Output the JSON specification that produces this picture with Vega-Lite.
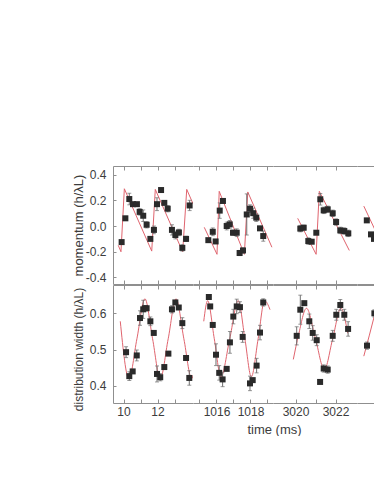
{
  "$schema": "https://vega.github.io/schema/vega-lite/v6.json",
  "padding": {"left": 71, "top": 165, "right": 0, "bottom": 0},
  "background": "white",
  "config": {
    "view": {"stroke": null},
    "font": "Liberation Sans",
    "axis": {"domainColor": "#8f8f8f", "tickColor": "#8f8f8f", "domainWidth": 1, "tickWidth": 1, "labelColor": "#3c3c3c", "labelFont": "Liberation Sans", "labelFontSize": 12, "titleFont": "Liberation Sans", "titleFontSize": 13, "titleFontWeight": "normal", "titleColor": "#3c3c3c", "grid": false, "tickSize": -4, "labelPadding": 7}
  },
  "datasets": {
    "pts": [
      {"p":"m","s":1,"t":9.89,"v":-0.125,"e":0.012},
      {"p":"m","s":1,"t":10.11,"v":0.06,"e":0.015},
      {"p":"m","s":1,"t":10.34,"v":0.21,"e":0.045},
      {"p":"m","s":1,"t":10.56,"v":0.17,"e":0.012},
      {"p":"m","s":1,"t":10.79,"v":0.17,"e":0.012},
      {"p":"m","s":1,"t":10.95,"v":0.11,"e":0.025},
      {"p":"m","s":1,"t":11.16,"v":0.08,"e":0.045},
      {"p":"m","s":1,"t":11.36,"v":0.01,"e":0.025},
      {"p":"m","s":1,"t":11.58,"v":-0.10,"e":0.012},
      {"p":"m","s":1,"t":11.79,"v":-0.03,"e":0.03},
      {"p":"m","s":1,"t":11.97,"v":0.17,"e":0.05},
      {"p":"m","s":1,"t":12.21,"v":0.28,"e":0.012},
      {"p":"m","s":1,"t":12.40,"v":0.18,"e":0.012},
      {"p":"m","s":1,"t":12.60,"v":0.135,"e":0.025},
      {"p":"m","s":1,"t":12.85,"v":-0.03,"e":0.04},
      {"p":"m","s":1,"t":13.05,"v":-0.07,"e":0.03},
      {"p":"m","s":1,"t":13.26,"v":-0.05,"e":0.025},
      {"p":"m","s":1,"t":13.46,"v":-0.17,"e":0.025},
      {"p":"m","s":1,"t":13.68,"v":-0.10,"e":0.02},
      {"p":"m","s":1,"t":13.89,"v":0.16,"e":0.04},
      {"p":"m","s":2,"t":1015.52,"v":-0.11,"e":0.012},
      {"p":"m","s":2,"t":1015.78,"v":-0.045,"e":0.03},
      {"p":"m","s":2,"t":1015.95,"v":-0.12,"e":0.012},
      {"p":"m","s":2,"t":1016.19,"v":0.12,"e":0.06},
      {"p":"m","s":2,"t":1016.38,"v":0.195,"e":0.012},
      {"p":"m","s":2,"t":1016.60,"v":0.0,"e":0.03},
      {"p":"m","s":2,"t":1016.78,"v":0.013,"e":0.03},
      {"p":"m","s":2,"t":1016.97,"v":-0.052,"e":0.02},
      {"p":"m","s":2,"t":1017.19,"v":-0.052,"e":0.03},
      {"p":"m","s":2,"t":1017.36,"v":-0.21,"e":0.02},
      {"p":"m","s":2,"t":1017.56,"v":-0.19,"e":0.02},
      {"p":"m","s":2,"t":1017.78,"v":0.09,"e":0.16},
      {"p":"m","s":2,"t":1017.97,"v":0.135,"e":0.03},
      {"p":"m","s":2,"t":1018.16,"v":0.10,"e":0.04},
      {"p":"m","s":2,"t":1018.34,"v":0.065,"e":0.03},
      {"p":"m","s":2,"t":1018.56,"v":-0.018,"e":0.012},
      {"p":"m","s":2,"t":1018.75,"v":-0.078,"e":0.04},
      {"p":"m","s":3,"t":3020.24,"v":-0.02,"e":0.025},
      {"p":"m","s":3,"t":3020.41,"v":-0.013,"e":0.02},
      {"p":"m","s":3,"t":3020.64,"v":-0.117,"e":0.025},
      {"p":"m","s":3,"t":3020.81,"v":-0.122,"e":0.012},
      {"p":"m","s":3,"t":3021.04,"v":-0.052,"e":0.012},
      {"p":"m","s":3,"t":3021.24,"v":0.208,"e":0.045},
      {"p":"m","s":3,"t":3021.41,"v":0.122,"e":0.025},
      {"p":"m","s":3,"t":3021.61,"v":0.13,"e":0.025},
      {"p":"m","s":3,"t":3021.86,"v":0.099,"e":0.025},
      {"p":"m","s":3,"t":3022.03,"v":0.031,"e":0.025},
      {"p":"m","s":3,"t":3022.24,"v":-0.034,"e":0.025},
      {"p":"m","s":3,"t":3022.44,"v":-0.039,"e":0.025},
      {"p":"m","s":3,"t":3022.64,"v":-0.057,"e":0.025},
      {"p":"m","s":4,"t":7019.54,"v":0.044,"e":0.012},
      {"p":"m","s":4,"t":7019.75,"v":-0.065,"e":0.012},
      {"p":"m","s":4,"t":7019.9,"v":-0.1,"e":0.012},
      {"p":"w","s":1,"t":10.15,"v":0.493,"e":0.015},
      {"p":"w","s":1,"t":10.34,"v":0.427,"e":0.012},
      {"p":"w","s":1,"t":10.54,"v":0.44,"e":0.005},
      {"p":"w","s":1,"t":10.78,"v":0.484,"e":0.015},
      {"p":"w","s":1,"t":10.97,"v":0.587,"e":0.02},
      {"p":"w","s":1,"t":11.16,"v":0.611,"e":0.025},
      {"p":"w","s":1,"t":11.26,"v":0.614,"e":0.005},
      {"p":"w","s":1,"t":11.36,"v":0.614,"e":0.005},
      {"p":"w","s":1,"t":11.58,"v":0.578,"e":0.012},
      {"p":"w","s":1,"t":11.78,"v":0.546,"e":0.005},
      {"p":"w","s":1,"t":11.97,"v":0.433,"e":0.022},
      {"p":"w","s":1,"t":12.16,"v":0.424,"e":0.01},
      {"p":"w","s":1,"t":12.40,"v":0.452,"e":0.005},
      {"p":"w","s":1,"t":12.64,"v":0.489,"e":0.005},
      {"p":"w","s":1,"t":12.85,"v":0.611,"e":0.01},
      {"p":"w","s":1,"t":13.05,"v":0.63,"e":0.005},
      {"p":"w","s":1,"t":13.25,"v":0.616,"e":0.005},
      {"p":"w","s":1,"t":13.46,"v":0.573,"e":0.015},
      {"p":"w","s":1,"t":13.68,"v":0.477,"e":0.005},
      {"p":"w","s":1,"t":13.87,"v":0.422,"e":0.02},
      {"p":"w","s":2,"t":1015.55,"v":0.645,"e":0.005},
      {"p":"w","s":2,"t":1015.63,"v":0.619,"e":0.005},
      {"p":"w","s":2,"t":1015.78,"v":0.568,"e":0.005},
      {"p":"w","s":2,"t":1015.97,"v":0.486,"e":0.03},
      {"p":"w","s":2,"t":1016.16,"v":0.436,"e":0.02},
      {"p":"w","s":2,"t":1016.36,"v":0.418,"e":0.02},
      {"p":"w","s":2,"t":1016.60,"v":0.447,"e":0.005},
      {"p":"w","s":2,"t":1016.79,"v":0.52,"e":0.03},
      {"p":"w","s":2,"t":1016.99,"v":0.591,"e":0.02},
      {"p":"w","s":2,"t":1017.19,"v":0.619,"e":0.02},
      {"p":"w","s":2,"t":1017.38,"v":0.617,"e":0.015},
      {"p":"w","s":2,"t":1017.54,"v":0.535,"e":0.015},
      {"p":"w","s":2,"t":1017.97,"v":0.407,"e":0.02},
      {"p":"w","s":2,"t":1018.13,"v":0.416,"e":0.005},
      {"p":"w","s":2,"t":1018.36,"v":0.456,"e":0.02},
      {"p":"w","s":2,"t":1018.56,"v":0.547,"e":0.02},
      {"p":"w","s":2,"t":1018.75,"v":0.63,"e":0.01},
      {"p":"w","s":3,"t":3020.06,"v":0.538,"e":0.025},
      {"p":"w","s":3,"t":3020.24,"v":0.61,"e":0.04},
      {"p":"w","s":3,"t":3020.44,"v":0.628,"e":0.005},
      {"p":"w","s":3,"t":3020.69,"v":0.578,"e":0.02},
      {"p":"w","s":3,"t":3020.86,"v":0.546,"e":0.02},
      {"p":"w","s":3,"t":3021.06,"v":0.526,"e":0.015},
      {"p":"w","s":3,"t":3021.23,"v":0.411,"e":0.005},
      {"p":"w","s":3,"t":3021.41,"v":0.448,"e":0.01},
      {"p":"w","s":3,"t":3021.61,"v":0.445,"e":0.01},
      {"p":"w","s":3,"t":3021.86,"v":0.538,"e":0.015},
      {"p":"w","s":3,"t":3022.04,"v":0.596,"e":0.015},
      {"p":"w","s":3,"t":3022.24,"v":0.623,"e":0.015},
      {"p":"w","s":3,"t":3022.44,"v":0.596,"e":0.015},
      {"p":"w","s":3,"t":3022.63,"v":0.557,"e":0.02},
      {"p":"w","s":4,"t":7019.55,"v":0.511,"e":0.01},
      {"p":"w","s":4,"t":7019.92,"v":0.60,"e":0.01}
    ],
    "fit": [
      {"p":"m","s":1,"t":9.69,"v":-0.15},
      {"p":"m","s":1,"t":9.85,"v":-0.20},
      {"p":"m","s":1,"t":10.05,"v":0.29},
      {"p":"m","s":1,"t":11.66,"v":-0.195},
      {"p":"m","s":1,"t":11.87,"v":0.285},
      {"p":"m","s":1,"t":13.48,"v":-0.20},
      {"p":"m","s":1,"t":13.72,"v":0.285},
      {"p":"m","s":1,"t":14.1,"v":0.17},
      {"p":"m","s":2,"t":1015.28,"v":-0.01},
      {"p":"m","s":2,"t":1016.03,"v":-0.22},
      {"p":"m","s":2,"t":1016.16,"v":0.27},
      {"p":"m","s":2,"t":1017.64,"v":-0.22},
      {"p":"m","s":2,"t":1017.84,"v":0.265},
      {"p":"m","s":2,"t":1019.26,"v":-0.165},
      {"p":"m","s":3,"t":3020.11,"v":0.06},
      {"p":"m","s":3,"t":3021.03,"v":-0.22},
      {"p":"m","s":3,"t":3021.19,"v":0.27},
      {"p":"m","s":3,"t":3022.69,"v":-0.19},
      {"p":"m","s":4,"t":7019.39,"v":0.155},
      {"p":"m","s":4,"t":7019.95,"v":-0.03},
      {"p":"w","s":1,"t":9.81,"v":0.578},
      {"p":"w","s":1,"t":10.32,"v":0.42},
      {"p":"w","s":1,"t":10.79,"v":0.53},
      {"p":"w","s":1,"t":11.26,"v":0.64},
      {"p":"w","s":1,"t":11.71,"v":0.53},
      {"p":"w","s":1,"t":12.16,"v":0.42},
      {"p":"w","s":1,"t":12.63,"v":0.53},
      {"p":"w","s":1,"t":13.09,"v":0.64},
      {"p":"w","s":1,"t":13.55,"v":0.53},
      {"p":"w","s":1,"t":14.01,"v":0.42},
      {"p":"w","s":1,"t":14.1,"v":0.43},
      {"p":"w","s":2,"t":1015.25,"v":0.578},
      {"p":"w","s":2,"t":1015.48,"v":0.635},
      {"p":"w","s":2,"t":1015.87,"v":0.53},
      {"p":"w","s":2,"t":1016.26,"v":0.425},
      {"p":"w","s":2,"t":1016.78,"v":0.53},
      {"p":"w","s":2,"t":1017.28,"v":0.635},
      {"p":"w","s":2,"t":1017.67,"v":0.53},
      {"p":"w","s":2,"t":1018.05,"v":0.425},
      {"p":"w","s":2,"t":1018.45,"v":0.53},
      {"p":"w","s":2,"t":1018.83,"v":0.635},
      {"p":"w","s":2,"t":1019.15,"v":0.61},
      {"p":"w","s":3,"t":3019.89,"v":0.473},
      {"p":"w","s":3,"t":3020.15,"v":0.54},
      {"p":"w","s":3,"t":3020.55,"v":0.614},
      {"p":"w","s":3,"t":3021.0,"v":0.53},
      {"p":"w","s":3,"t":3021.44,"v":0.445},
      {"p":"w","s":3,"t":3021.86,"v":0.53},
      {"p":"w","s":3,"t":3022.27,"v":0.614},
      {"p":"w","s":3,"t":3022.61,"v":0.545},
      {"p":"w","s":4,"t":7019.39,"v":0.482},
      {"p":"w","s":4,"t":7019.67,"v":0.54},
      {"p":"w","s":4,"t":7019.95,"v":0.60}
    ]
  },
  "spacing": -7,
  "vconcat": [
    {
      "spacing": 0,
      "bounds": "flush",
      "hconcat": [
        {
          "width": 80, "height": 118,
          "resolve": {"axis": {"x": "independent"}},
          "layer": [
            {"data": {"name": "fit"}, "transform": [{"filter": "datum.p == 'm' && datum.s == 1"}],
             "mark": {"type": "line", "color": "#e0646e", "strokeWidth": 1, "clip": true, "interpolate": "linear"},
             "encoding": {
               "x": {"field": "t", "type": "quantitative", "scale": {"domain": [9.382, 14.088], "nice": false, "zero": false}, "axis": {"orient": "bottom", "values": [10, 11, 12, 13], "labels": false, "title": null}},
               "y": {"field": "v", "type": "quantitative", "scale": {"domain": [-0.451, 0.467], "nice": false, "zero": false}, "axis": {"values": [-0.4, -0.2, 0, 0.2, 0.4], "labelExpr": "replace(format(datum.value, '.1f'), '\u2212', '-')", "title": "momentum (h/λL)", "titleX": -28, "tickSize": -3, "labelPadding": 10}}
             }},
            {"data": {"name": "pts"}, "transform": [{"filter": "datum.p == 'm' && datum.s == 1"}],
             "mark": {"type": "errorbar", "ticks": {"size": 4}, "color": "#6e6e6e"},
             "encoding": {
               "x": {"field": "t", "type": "quantitative", "scale": {"domain": [9.382, 14.088], "nice": false, "zero": false}, "axis": null},
               "y": {"field": "v", "type": "quantitative", "scale": {"domain": [-0.451, 0.467], "nice": false, "zero": false}, "axis": {"values": [-0.4, -0.2, 0, 0.2, 0.4], "labelExpr": "replace(format(datum.value, '.1f'), '\u2212', '-')", "title": "momentum (h/λL)", "titleX": -28, "tickSize": -3, "labelPadding": 10}},
               "yError": {"field": "e"}
             }},
            {"data": {"name": "pts"}, "transform": [{"filter": "datum.p == 'm' && datum.s == 1"}],
             "mark": {"type": "square", "size": 36, "color": "#2a2a2a", "opacity": 1},
             "encoding": {
               "x": {"field": "t", "type": "quantitative", "scale": {"domain": [9.382, 14.088], "nice": false, "zero": false}, "axis": {"orient": "top", "values": [10, 11, 12, 13], "labels": false, "title": null}},
               "y": {"field": "v", "type": "quantitative", "scale": {"domain": [-0.451, 0.467], "nice": false, "zero": false}, "axis": {"values": [-0.4, -0.2, 0, 0.2, 0.4], "labelExpr": "replace(format(datum.value, '.1f'), '\u2212', '-')", "title": "momentum (h/λL)", "titleX": -28, "tickSize": -3, "labelPadding": 10}}
             }}
          ]
        },
        {
          "width": 80, "height": 118,
          "resolve": {"axis": {"x": "independent"}},
          "layer": [
            {"data": {"name": "fit"}, "transform": [{"filter": "datum.p == 'm' && datum.s == 2"}],
             "mark": {"type": "line", "color": "#e0646e", "strokeWidth": 1, "clip": true},
             "encoding": {
               "x": {"field": "t", "type": "quantitative", "scale": {"domain": [1014.618, 1019.324], "nice": false, "zero": false}, "axis": {"orient": "bottom", "values": [1015, 1016, 1017, 1018, 1019], "labels": false, "title": null}},
               "y": {"field": "v", "type": "quantitative", "scale": {"domain": [-0.451, 0.467], "nice": false, "zero": false}, "axis": null}
             }},
            {"data": {"name": "pts"}, "transform": [{"filter": "datum.p == 'm' && datum.s == 2"}],
             "mark": {"type": "errorbar", "ticks": {"size": 4}, "color": "#6e6e6e"},
             "encoding": {
               "x": {"field": "t", "type": "quantitative", "scale": {"domain": [1014.618, 1019.324], "nice": false, "zero": false}, "axis": null},
               "y": {"field": "v", "type": "quantitative", "scale": {"domain": [-0.451, 0.467], "nice": false, "zero": false}, "axis": null},
               "yError": {"field": "e"}
             }},
            {"data": {"name": "pts"}, "transform": [{"filter": "datum.p == 'm' && datum.s == 2"}],
             "mark": {"type": "square", "size": 36, "color": "#2a2a2a", "opacity": 1},
             "encoding": {
               "x": {"field": "t", "type": "quantitative", "scale": {"domain": [1014.618, 1019.324], "nice": false, "zero": false}, "axis": {"orient": "top", "values": [1015, 1016, 1017, 1018, 1019], "labels": false, "title": null}},
               "y": {"field": "v", "type": "quantitative", "scale": {"domain": [-0.451, 0.467], "nice": false, "zero": false}, "axis": null}
             }}
          ]
        },
        {
          "width": 84, "height": 118,
          "resolve": {"axis": {"x": "independent"}},
          "layer": [
            {"data": {"name": "fit"}, "transform": [{"filter": "datum.p == 'm' && datum.s == 3"}],
             "mark": {"type": "line", "color": "#e0646e", "strokeWidth": 1, "clip": true},
             "encoding": {
               "x": {"field": "t", "type": "quantitative", "scale": {"domain": [3018.875, 3023.075], "nice": false, "zero": false}, "axis": {"orient": "bottom", "values": [3020, 3021, 3022], "labels": false, "title": null}},
               "y": {"field": "v", "type": "quantitative", "scale": {"domain": [-0.451, 0.467], "nice": false, "zero": false}, "axis": null}
             }},
            {"data": {"name": "pts"}, "transform": [{"filter": "datum.p == 'm' && datum.s == 3"}],
             "mark": {"type": "errorbar", "ticks": {"size": 4}, "color": "#6e6e6e"},
             "encoding": {
               "x": {"field": "t", "type": "quantitative", "scale": {"domain": [3018.875, 3023.075], "nice": false, "zero": false}, "axis": null},
               "y": {"field": "v", "type": "quantitative", "scale": {"domain": [-0.451, 0.467], "nice": false, "zero": false}, "axis": null},
               "yError": {"field": "e"}
             }},
            {"data": {"name": "pts"}, "transform": [{"filter": "datum.p == 'm' && datum.s == 3"}],
             "mark": {"type": "square", "size": 36, "color": "#2a2a2a", "opacity": 1},
             "encoding": {
               "x": {"field": "t", "type": "quantitative", "scale": {"domain": [3018.875, 3023.075], "nice": false, "zero": false}, "axis": {"orient": "top", "values": [3020, 3021, 3022], "labels": false, "title": null}},
               "y": {"field": "v", "type": "quantitative", "scale": {"domain": [-0.451, 0.467], "nice": false, "zero": false}, "axis": null}
             }}
          ]
        },
        {
          "width": 18, "height": 118,
          "resolve": {"axis": {"x": "independent"}},
          "layer": [
            {"data": {"name": "fit"}, "transform": [{"filter": "datum.p == 'm' && datum.s == 4"}],
             "mark": {"type": "line", "color": "#e0646e", "strokeWidth": 1, "clip": true},
             "encoding": {
               "x": {"field": "t", "type": "quantitative", "scale": {"domain": [7019.05, 7019.95], "nice": false, "zero": false}, "axis": {"orient": "bottom", "values": [], "labels": false, "title": null}},
               "y": {"field": "v", "type": "quantitative", "scale": {"domain": [-0.451, 0.467], "nice": false, "zero": false}, "axis": null}
             }},
            {"data": {"name": "pts"}, "transform": [{"filter": "datum.p == 'm' && datum.s == 4"}],
             "mark": {"type": "errorbar", "ticks": {"size": 4}, "color": "#6e6e6e", "clip": true},
             "encoding": {
               "x": {"field": "t", "type": "quantitative", "scale": {"domain": [7019.05, 7019.95], "nice": false, "zero": false}, "axis": null},
               "y": {"field": "v", "type": "quantitative", "scale": {"domain": [-0.451, 0.467], "nice": false, "zero": false}, "axis": null},
               "yError": {"field": "e"}
             }},
            {"data": {"name": "pts"}, "transform": [{"filter": "datum.p == 'm' && datum.s == 4"}],
             "mark": {"type": "square", "size": 36, "color": "#2a2a2a", "opacity": 1, "clip": true},
             "encoding": {
               "x": {"field": "t", "type": "quantitative", "scale": {"domain": [7019.05, 7019.95], "nice": false, "zero": false}, "axis": {"orient": "top", "values": [], "labels": false, "title": null}},
               "y": {"field": "v", "type": "quantitative", "scale": {"domain": [-0.451, 0.467], "nice": false, "zero": false}, "axis": null}
             }}
          ]
        }
      ]
    },
    {
      "spacing": 0,
      "bounds": "flush",
      "hconcat": [
        {
          "width": 80, "height": 118,
          "resolve": {"axis": {"x": "independent"}},
          "layer": [
            {"data": {"name": "fit"}, "transform": [{"filter": "datum.p == 'w' && datum.s == 1"}],
             "mark": {"type": "line", "color": "#e0646e", "strokeWidth": 1, "clip": true, "interpolate": "monotone"},
             "encoding": {
               "x": {"field": "t", "type": "quantitative", "scale": {"domain": [9.382, 14.088], "nice": false, "zero": false}, "axis": {"orient": "bottom", "values": [10, 11, 12, 13], "format": "d", "labelExpr": "datum.value % 2 == 0 ? datum.label : ''", "title": null}},
               "y": {"field": "v", "type": "quantitative", "scale": {"domain": [0.353, 0.678], "nice": false, "zero": false}, "axis": {"values": [0.4, 0.5, 0.6], "format": ".1f", "title": "distribution width (h/λL)", "titleFontSize": 12, "titleX": -28, "titleY": 64, "tickSize": -3, "labelPadding": 10}}
             }},
            {"data": {"name": "pts"}, "transform": [{"filter": "datum.p == 'w' && datum.s == 1"}],
             "mark": {"type": "errorbar", "ticks": {"size": 4}, "color": "#6e6e6e"},
             "encoding": {
               "x": {"field": "t", "type": "quantitative", "scale": {"domain": [9.382, 14.088], "nice": false, "zero": false}, "axis": null},
               "y": {"field": "v", "type": "quantitative", "scale": {"domain": [0.353, 0.678], "nice": false, "zero": false}, "axis": {"values": [0.4, 0.5, 0.6], "format": ".1f", "title": "distribution width (h/λL)", "titleFontSize": 12, "titleX": -28, "titleY": 64, "tickSize": -3, "labelPadding": 10}},
               "yError": {"field": "e"}
             }},
            {"data": {"name": "pts"}, "transform": [{"filter": "datum.p == 'w' && datum.s == 1"}],
             "mark": {"type": "square", "size": 36, "color": "#2a2a2a", "opacity": 1},
             "encoding": {
               "x": {"field": "t", "type": "quantitative", "scale": {"domain": [9.382, 14.088], "nice": false, "zero": false}, "axis": {"orient": "top", "values": [10, 11, 12, 13], "labels": false, "title": null}},
               "y": {"field": "v", "type": "quantitative", "scale": {"domain": [0.353, 0.678], "nice": false, "zero": false}, "axis": {"values": [0.4, 0.5, 0.6], "format": ".1f", "title": "distribution width (h/λL)", "titleFontSize": 12, "titleX": -28, "titleY": 64, "tickSize": -3, "labelPadding": 10}}
             }}
          ]
        },
        {
          "width": 80, "height": 118,
          "resolve": {"axis": {"x": "independent"}},
          "layer": [
            {"data": {"name": "fit"}, "transform": [{"filter": "datum.p == 'w' && datum.s == 2"}],
             "mark": {"type": "line", "color": "#e0646e", "strokeWidth": 1, "clip": true, "interpolate": "monotone"},
             "encoding": {
               "x": {"field": "t", "type": "quantitative", "scale": {"domain": [1014.618, 1019.324], "nice": false, "zero": false}, "axis": {"orient": "bottom", "values": [1015, 1016, 1017, 1018, 1019], "format": "d", "labelExpr": "datum.value % 2 == 0 ? datum.label : ''", "title": null}},
               "y": {"field": "v", "type": "quantitative", "scale": {"domain": [0.353, 0.678], "nice": false, "zero": false}, "axis": null}
             }},
            {"data": {"name": "pts"}, "transform": [{"filter": "datum.p == 'w' && datum.s == 2"}],
             "mark": {"type": "errorbar", "ticks": {"size": 4}, "color": "#6e6e6e"},
             "encoding": {
               "x": {"field": "t", "type": "quantitative", "scale": {"domain": [1014.618, 1019.324], "nice": false, "zero": false}, "axis": null},
               "y": {"field": "v", "type": "quantitative", "scale": {"domain": [0.353, 0.678], "nice": false, "zero": false}, "axis": null},
               "yError": {"field": "e"}
             }},
            {"data": {"name": "pts"}, "transform": [{"filter": "datum.p == 'w' && datum.s == 2"}],
             "mark": {"type": "square", "size": 36, "color": "#2a2a2a", "opacity": 1},
             "encoding": {
               "x": {"field": "t", "type": "quantitative", "scale": {"domain": [1014.618, 1019.324], "nice": false, "zero": false}, "axis": {"orient": "top", "values": [1015, 1016, 1017, 1018, 1019], "labels": false, "title": null}},
               "y": {"field": "v", "type": "quantitative", "scale": {"domain": [0.353, 0.678], "nice": false, "zero": false}, "axis": null}
             }}
          ]
        },
        {
          "width": 84, "height": 118,
          "resolve": {"axis": {"x": "independent"}},
          "layer": [
            {"data": {"name": "fit"}, "transform": [{"filter": "datum.p == 'w' && datum.s == 3"}],
             "mark": {"type": "line", "color": "#e0646e", "strokeWidth": 1, "clip": true, "interpolate": "monotone"},
             "encoding": {
               "x": {"field": "t", "type": "quantitative", "scale": {"domain": [3018.875, 3023.075], "nice": false, "zero": false}, "axis": {"orient": "bottom", "values": [3020, 3021, 3022], "format": "d", "labelExpr": "datum.value % 2 == 0 ? datum.label : ''", "title": "time (ms)", "titleX": 1, "titlePadding": 6}},
               "y": {"field": "v", "type": "quantitative", "scale": {"domain": [0.353, 0.678], "nice": false, "zero": false}, "axis": null}
             }},
            {"data": {"name": "pts"}, "transform": [{"filter": "datum.p == 'w' && datum.s == 3"}],
             "mark": {"type": "errorbar", "ticks": {"size": 4}, "color": "#6e6e6e"},
             "encoding": {
               "x": {"field": "t", "type": "quantitative", "scale": {"domain": [3018.875, 3023.075], "nice": false, "zero": false}, "axis": null},
               "y": {"field": "v", "type": "quantitative", "scale": {"domain": [0.353, 0.678], "nice": false, "zero": false}, "axis": null},
               "yError": {"field": "e"}
             }},
            {"data": {"name": "pts"}, "transform": [{"filter": "datum.p == 'w' && datum.s == 3"}],
             "mark": {"type": "square", "size": 36, "color": "#2a2a2a", "opacity": 1},
             "encoding": {
               "x": {"field": "t", "type": "quantitative", "scale": {"domain": [3018.875, 3023.075], "nice": false, "zero": false}, "axis": {"orient": "top", "values": [3020, 3021, 3022], "labels": false, "title": null}},
               "y": {"field": "v", "type": "quantitative", "scale": {"domain": [0.353, 0.678], "nice": false, "zero": false}, "axis": null}
             }}
          ]
        },
        {
          "width": 18, "height": 118,
          "resolve": {"axis": {"x": "independent"}},
          "layer": [
            {"data": {"name": "fit"}, "transform": [{"filter": "datum.p == 'w' && datum.s == 4"}],
             "mark": {"type": "line", "color": "#e0646e", "strokeWidth": 1, "clip": true, "interpolate": "monotone"},
             "encoding": {
               "x": {"field": "t", "type": "quantitative", "scale": {"domain": [7019.05, 7019.95], "nice": false, "zero": false}, "axis": {"orient": "bottom", "values": [], "labels": false, "title": null}},
               "y": {"field": "v", "type": "quantitative", "scale": {"domain": [0.353, 0.678], "nice": false, "zero": false}, "axis": null}
             }},
            {"data": {"name": "pts"}, "transform": [{"filter": "datum.p == 'w' && datum.s == 4"}],
             "mark": {"type": "errorbar", "ticks": {"size": 4}, "color": "#6e6e6e", "clip": true},
             "encoding": {
               "x": {"field": "t", "type": "quantitative", "scale": {"domain": [7019.05, 7019.95], "nice": false, "zero": false}, "axis": null},
               "y": {"field": "v", "type": "quantitative", "scale": {"domain": [0.353, 0.678], "nice": false, "zero": false}, "axis": null},
               "yError": {"field": "e"}
             }},
            {"data": {"name": "pts"}, "transform": [{"filter": "datum.p == 'w' && datum.s == 4"}],
             "mark": {"type": "square", "size": 36, "color": "#2a2a2a", "opacity": 1, "clip": true},
             "encoding": {
               "x": {"field": "t", "type": "quantitative", "scale": {"domain": [7019.05, 7019.95], "nice": false, "zero": false}, "axis": {"orient": "top", "values": [], "labels": false, "title": null}},
               "y": {"field": "v", "type": "quantitative", "scale": {"domain": [0.353, 0.678], "nice": false, "zero": false}, "axis": null}
             }}
          ]
        }
      ]
    }
  ]
}
